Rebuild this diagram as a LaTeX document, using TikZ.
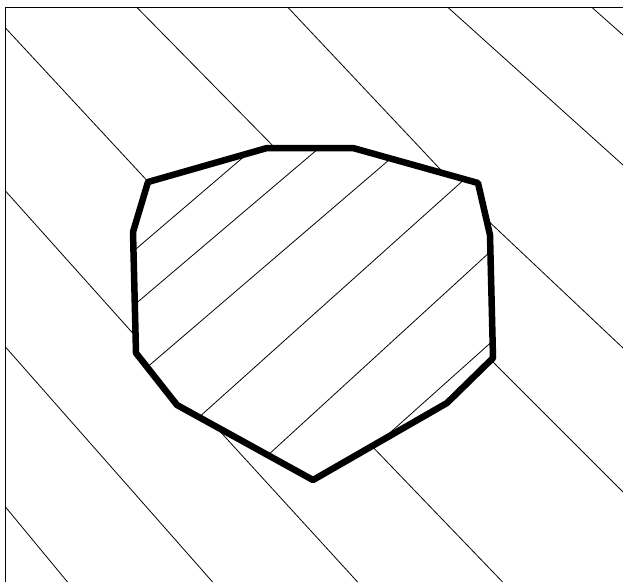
\documentclass[tikz,border=0pt]{standalone}
\begin{document}
\begin{tikzpicture}[x=1pt,y=-1pt,
  hatch/.style={line width=0.8pt},
  rim/.style={line width=6.5pt,line join=round}]
\useasboundingbox (0,0) rectangle (623,582);
% frame (left and top only)
\draw[line width=1.3pt] (5.5,582) -- (5.5,7.5) -- (623,7.5);
% grain corners
\coordinate (p1) at (148,182);
\coordinate (p2) at (267,148);
\coordinate (p3) at (353,148);
\coordinate (p4) at (478,183);
\coordinate (p5) at (490,235);
\coordinate (p6) at (493,358);
\coordinate (p7) at (447,403);
\coordinate (p8) at (313,480);
\coordinate (p9) at (177,405);
\coordinate (p10) at (136,353);
\coordinate (p11) at (133,232);
% hatching of the matrix
\draw[hatch] (592,7.5) -- (623,35);
\draw[hatch] (448,7.5) -- (623,165);
\draw[hatch] (288,7.5) -- (448,177.5);
\draw[hatch] (482,215) -- (623,348);
\draw[hatch] (137,7.5) -- (280,153);
\draw[hatch] (488,357) -- (623,492);
\draw[hatch] (5.5,28) -- (153,187);
\draw[hatch] (367,441) -- (502.6,582);
\draw[hatch] (5.5,191) -- (138,339);
\draw[hatch] (216,427) -- (357.6,582);
\draw[hatch] (5.5,347) -- (212.6,582);
\draw[hatch] (5.5,507) -- (67.5,582);
\fill[white] (p1) -- (p2) -- (p3) -- (p4) -- (p5) -- (p6) -- (p7) -- (p8) -- (p9) -- (p10) -- (p11) -- cycle;
% hatching of the grain
\begin{scope}
  \clip (p1) -- (p2) -- (p3) -- (p4) -- (p5) -- (p6) -- (p7) -- (p8) -- (p9) -- (p10) -- (p11) -- cycle;
  \draw[hatch] (100,279.7) -- (520,-79.4);
  \draw[hatch] (100,334) -- (520,-22.6);
  \draw[hatch] (100,407.6) -- (520,47.7);
  \draw[hatch] (100,505.9) -- (520,129.5);
  \draw[hatch] (100,608.8) -- (520,224.5);
  \draw[hatch] (100,692) -- (520,316.5);
\end{scope}
\draw[rim] (p1) -- (p2) -- (p3) -- (p4) -- (p5) -- (p6) -- (p7) -- (p8) -- (p9) -- (p10) -- (p11) -- cycle;
\end{tikzpicture}
\end{document}
